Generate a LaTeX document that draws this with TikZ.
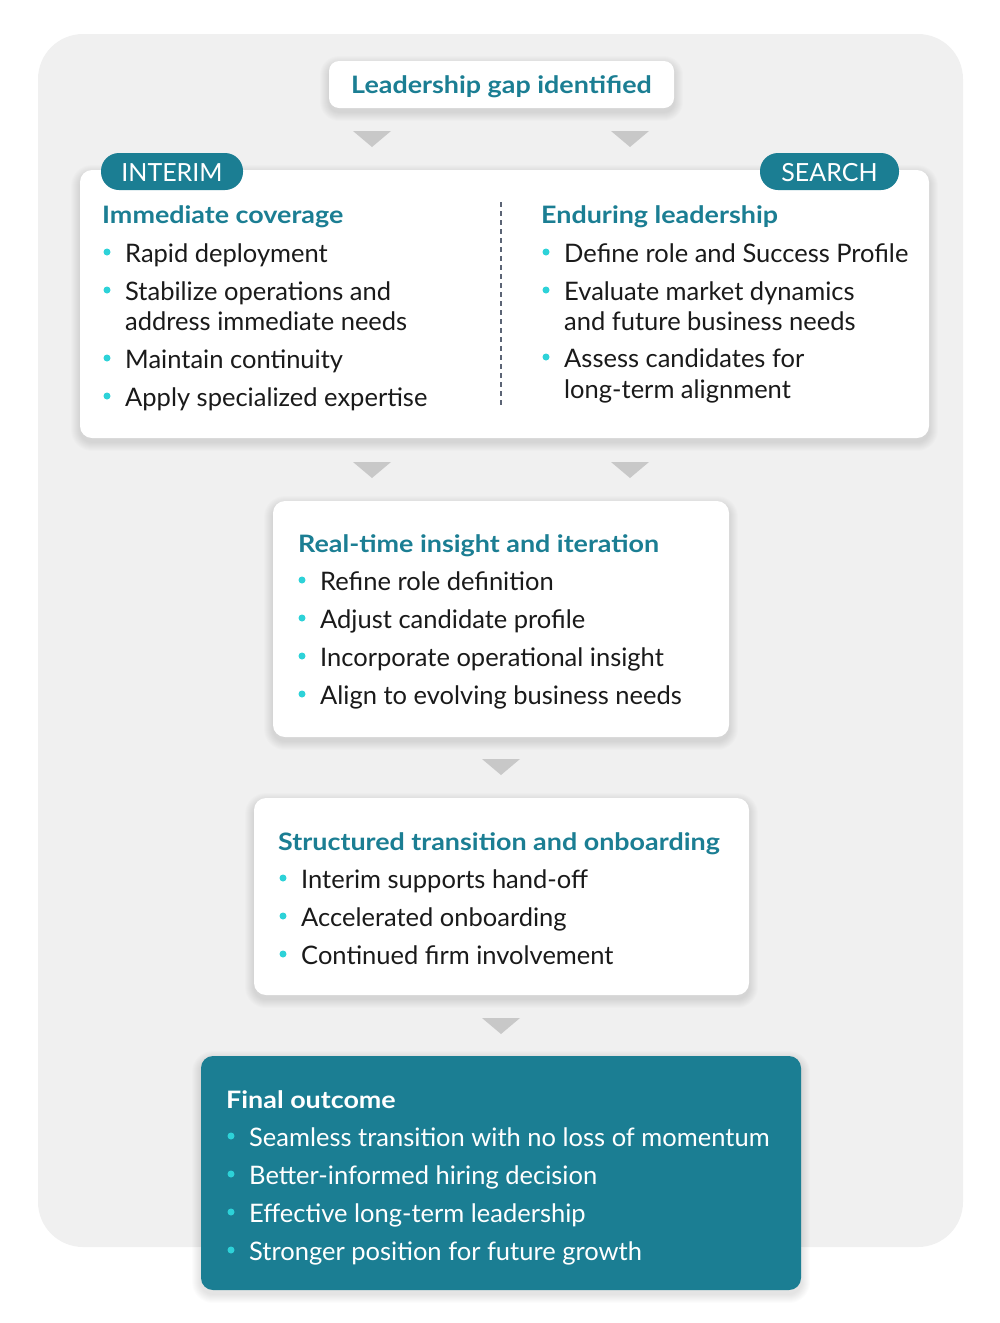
\documentclass[tikz,border=0pt]{standalone}
\usepackage{fontspec}
\setmainfont{Lato}
\newfontfamily\headfam{Lato}[FakeStretch=1.12]
\definecolor{tealc}{HTML}{1B7E93}
\definecolor{bulc}{HTML}{2DD2D8}
\definecolor{bgc}{HTML}{F0F0F0}
\definecolor{tric}{HTML}{C8C8C8}
\definecolor{dashc}{HTML}{5B6475}
\definecolor{txt}{HTML}{1A1A1A}
\newcommand{\bodyfont}{\fontsize{25.5}{30}\selectfont}
\newcommand{\headfont}{\headfam\fontsize{24}{28}\selectfont\bfseries}
\tikzset{
  card/.style={fill=white, rounded corners=12pt, inner sep=0pt},
  pill/.style={fill=tealc, rounded corners=18pt, inner sep=0pt},
  pilltxt/.style={inner sep=0pt, anchor=base, text=white, font=\fontsize{25}{28}\selectfont},
  body/.style={inner sep=0pt, anchor=base west, text=txt, font=\bodyfont},
  head/.style={inner sep=0pt, anchor=base west, text=tealc, font=\headfont},
  bdot/.style={circle, fill=bulc, inner sep=0pt, minimum size=7pt},
  tri/.style={fill=tric},
  shad/.style={fill=black, fill opacity=0.011},
}
\newcommand{\bitem}[4]{% name, x (text start), baseline, text
  \node[bdot] (#1d) at (#2-18, #3-10) {};
  \node[body] (#1) at (#2, #3) {#4};}
\newcommand{\contline}[4]{% name, x, baseline, text (continuation)
  \node[body] (#1) at (#2, #3) {#4};}
\newcommand{\downtri}[2]{% centre x, top y
  \fill[tri] (#1-19, #2) -- (#1+19, #2) -- (#1, #2+16) -- cycle;}
% soft shadow under a box: x1,y1,x2,y2,radius
\newcommand{\softshadow}[5]{%
  \foreach \s in {1,...,9}{%
    \fill[shad, rounded corners=#5+\s] (#1-\s, #2-\s+4) rectangle (#3+\s, #4+\s+4);}}
\begin{document}
\begin{tikzpicture}[x=1pt, y=-1pt]
\useasboundingbox (0,0) rectangle (1000,1323);
% background
\fill[bgc, rounded corners=45pt] (38,34) rectangle (963,1247);

% top box
\softshadow{329}{61}{674}{108}{10}
\node[card, rounded corners=10pt, minimum width=345pt, minimum height=47pt] (top) at (501.5,84.5) {};
\node[inner sep=0pt, anchor=base, text=tealc, font=\headfont] (toptxt) at (501.5,93.5) {Leadership gap identified};

\downtri{372}{131}
\downtri{630}{131}

% big two-column box
\softshadow{80}{170}{929}{438}{12}
\node[card, minimum width=849pt, minimum height=268pt] (mid1) at (504.5,304) {};
\node[pill, minimum width=142pt, minimum height=37pt] (interim) at (172,171.5) {};
\node[pilltxt] (interimt) at (172,181) {INTERIM};
\node[pill, minimum width=139pt, minimum height=37pt] (search) at (829.5,171.5) {};
\node[pilltxt] (searcht) at (829.5,181) {SEARCH};

\coordinate (dtop) at (501,202);
\coordinate (dbot) at (501,408);
\draw[dashc, line width=2pt, dash pattern=on 5pt off 4pt] (dtop) -- (dbot);

\node[head] (lh) at (102,223) {Immediate coverage};
\bitem{l1}{125}{262}{Rapid deployment}
\bitem{l2}{125}{300}{Stabilize operations and}
\contline{l2b}{125}{330}{address immediate needs}
\bitem{l3}{125}{368}{Maintain continuity}
\bitem{l4}{125}{406}{Apply specialized expertise}

\node[head] (rh) at (541,223) {Enduring leadership};
\bitem{r1}{564}{262}{Define role and Success Profile}
\bitem{r2}{564}{300}{Evaluate market dynamics}
\contline{r2b}{564}{330}{and future business needs}
\bitem{r3}{564}{367}{Assess candidates for}
\contline{r3b}{564}{398}{long-term alignment}

\downtri{372}{462}
\downtri{630}{462}

% real-time box
\softshadow{273}{501}{729}{737}{12}
\node[card, minimum width=456pt, minimum height=236pt] (mid2) at (501,619) {};
\node[head] (mh) at (298,552) {Real-time insight and iteration};
\bitem{m1}{320}{590}{Refine role definition}
\bitem{m2}{320}{628}{Adjust candidate profile}
\bitem{m3}{320}{666}{Incorporate operational insight}
\bitem{m4}{320}{704}{Align to evolving business needs}

\downtri{501}{759}

% transition box
\softshadow{254}{798}{749}{995}{12}
\node[card, minimum width=495pt, minimum height=197pt] (mid3) at (501.5,896.5) {};
\node[head] (th) at (278,850) {Structured transition and onboarding};
\bitem{t1}{301}{888}{Interim supports hand-off}
\bitem{t2}{301}{926}{Accelerated onboarding}
\bitem{t3}{301}{964}{Continued firm involvement}

\downtri{501}{1018}

% final box
\softshadow{201}{1056}{801}{1290}{12}
\node[card, fill=tealc, minimum width=600pt, minimum height=234pt] (fin) at (501,1173) {};
\node[head, text=white] (fh) at (226,1108) {Final outcome};
\begin{scope}
\tikzset{body/.append style={text=white}}
\bitem{f1}{249}{1146}{Seamless transition with no loss of momentum}
\bitem{f2}{249}{1184}{Better-informed hiring decision}
\bitem{f3}{249}{1222}{Effective long-term leadership}
\bitem{f4}{249}{1260}{Stronger position for future growth}
\end{scope}
\end{tikzpicture}
\end{document}
